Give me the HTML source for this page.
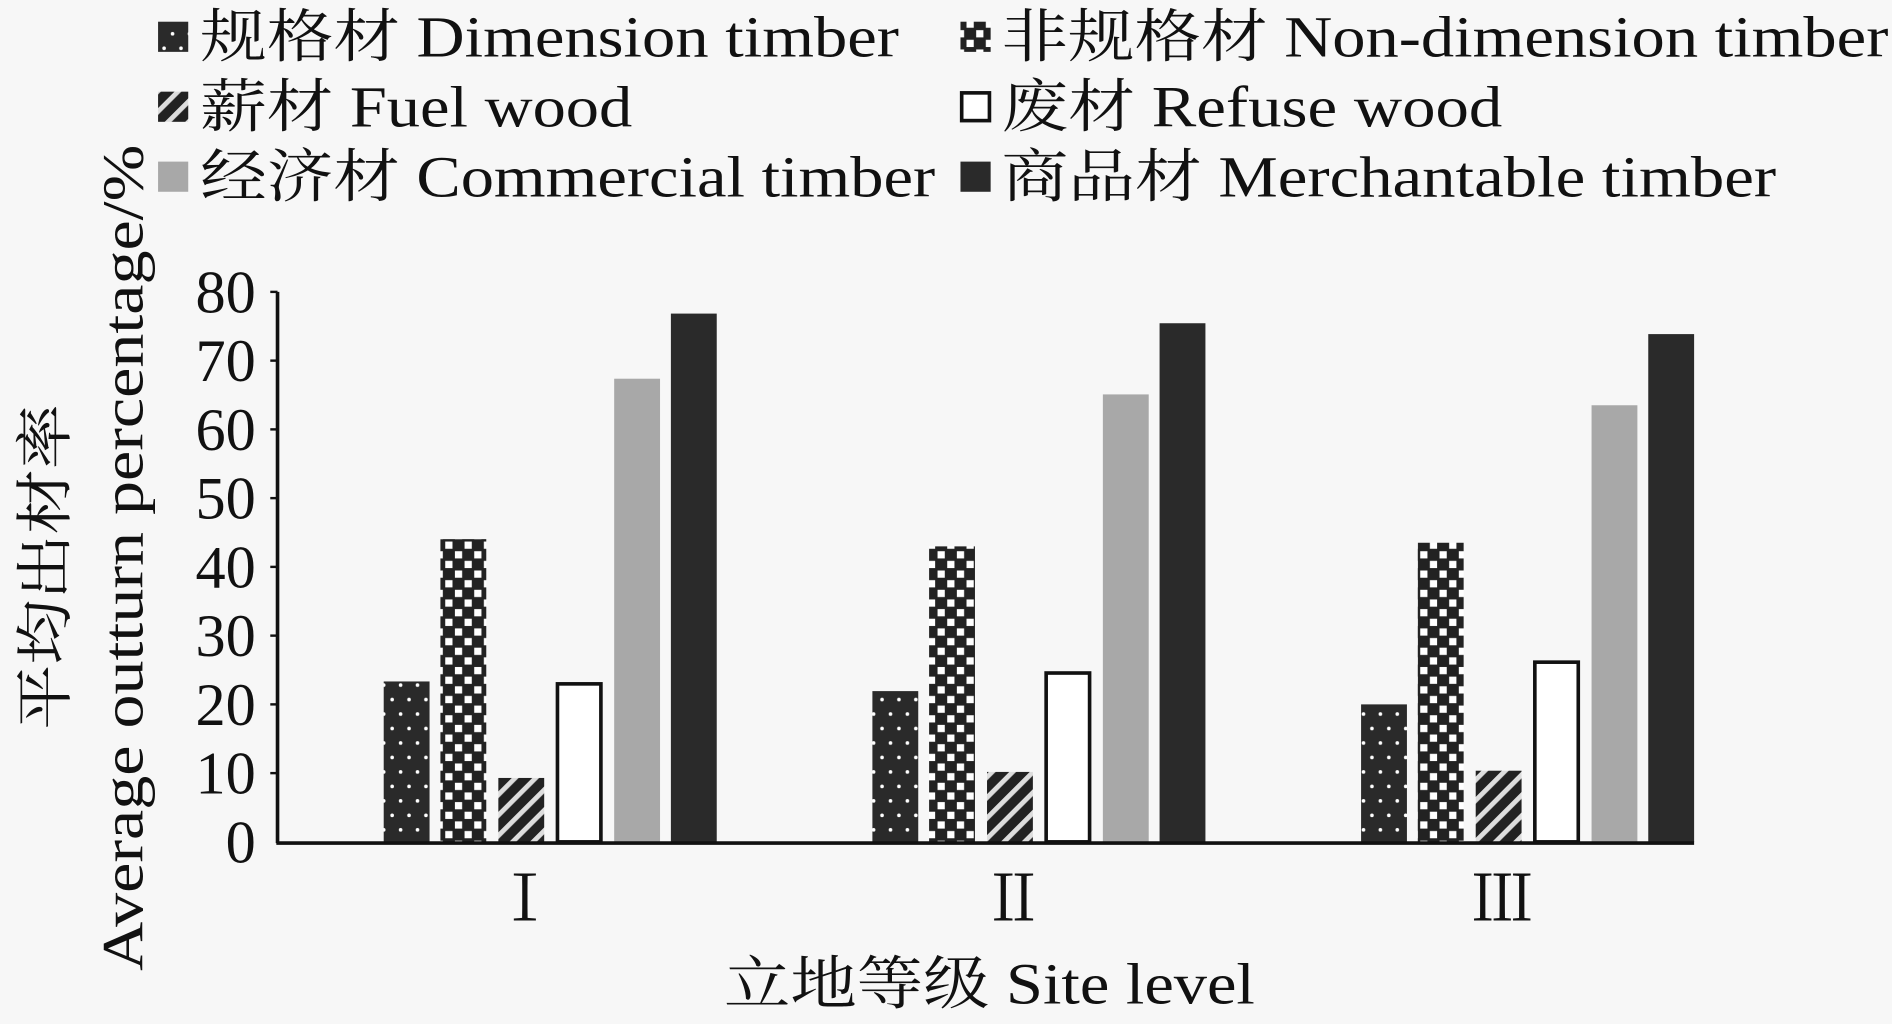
<!DOCTYPE html>
<html><head><meta charset="utf-8"><style>
html,body{margin:0;padding:0;background:#f7f7f7;}
svg{display:block;}
text{font-family:"Liberation Serif","Noto Serif CJK SC","Noto Sans CJK SC",serif;fill:#111;}
</style></head><body>
<svg width="1892" height="1024" viewBox="0 0 1568 849" preserveAspectRatio="none" xmlns="http://www.w3.org/2000/svg">
<defs>
<pattern id="dots" width="14" height="24" patternUnits="userSpaceOnUse">
<rect width="14" height="24" fill="#2a2a2a"/>
<circle cx="3" cy="4" r="1.5" fill="#fff"/><circle cx="10" cy="16" r="1.5" fill="#fff"/>
</pattern>
<pattern id="chk" width="16" height="16" patternUnits="userSpaceOnUse">
<rect width="16" height="16" fill="#222"/>
<rect x="1" y="1" width="6" height="6" fill="#fff"/><rect x="9" y="9" width="6" height="6" fill="#fff"/>
</pattern>
<pattern id="diag" width="12" height="12" patternUnits="userSpaceOnUse" patternTransform="rotate(45)">
<rect width="12" height="12" fill="#222"/><rect width="4" height="12" fill="#ddd"/>
</pattern>
</defs>
<rect width="1568" height="849" fill="#f7f7f7"/>
<!-- legend -->
<g font-size="48">
<rect x="131" y="18" width="25" height="25" fill="url(#dots)"/><text x="166" y="47" textLength="579" lengthAdjust="spacingAndGlyphs">规格材 Dimension timber</text>
<rect x="131" y="76" width="25" height="25" fill="url(#diag)"/><text x="166" y="105" textLength="358" lengthAdjust="spacingAndGlyphs">薪材 Fuel wood</text>
<rect x="131" y="134" width="25" height="25" fill="#a8a8a8"/><text x="166" y="163" textLength="609" lengthAdjust="spacingAndGlyphs">经济材 Commercial timber</text>
<rect x="796" y="18" width="25" height="25" fill="url(#chk)"/><text x="830" y="47" textLength="735" lengthAdjust="spacingAndGlyphs">非规格材 Non-dimension timber</text>
<rect x="797" y="77" width="23" height="23" fill="#fff" stroke="#111" stroke-width="3"/><text x="830" y="105" textLength="415" lengthAdjust="spacingAndGlyphs">废材 Refuse wood</text>
<rect x="796" y="134" width="25" height="25" fill="#2a2a2a"/><text x="830" y="163" textLength="642" lengthAdjust="spacingAndGlyphs">商品材 Merchantable timber</text>
</g>
<!-- y ticks -->
<g font-size="50" text-anchor="end">
<text x="212" y="715">0</text><text x="212" y="658">10</text><text x="212" y="601">20</text><text x="212" y="544">30</text>
<text x="212" y="487">40</text><text x="212" y="430">50</text><text x="212" y="373">60</text><text x="212" y="316">70</text><text x="212" y="259">80</text>
</g>
<line x1="230" y1="242" x2="230" y2="699" stroke="#111" stroke-width="3"/>
<g stroke="#111" stroke-width="2">
<line x1="224" y1="242" x2="230" y2="242"/><line x1="224" y1="299" x2="230" y2="299"/><line x1="224" y1="356" x2="230" y2="356"/>
<line x1="224" y1="413" x2="230" y2="413"/><line x1="224" y1="470" x2="230" y2="470"/><line x1="224" y1="527" x2="230" y2="527"/>
<line x1="224" y1="584" x2="230" y2="584"/><line x1="224" y1="641" x2="230" y2="641"/>
</g>
<g>
<rect x="318" y="565" width="38" height="133" fill="url(#dots)"/>
<rect x="365" y="447" width="38" height="251" fill="url(#chk)"/>
<rect x="413" y="645" width="38" height="53" fill="url(#diag)"/>
<rect x="462" y="567" width="36" height="131" fill="#fff" stroke="#111" stroke-width="3"/>
<rect x="509" y="314" width="38" height="384" fill="#a8a8a8"/>
<rect x="556" y="260" width="38" height="438" fill="#2a2a2a"/>

<rect x="723" y="573" width="38" height="125" fill="url(#dots)"/>
<rect x="770" y="453" width="38" height="245" fill="url(#chk)"/>
<rect x="818" y="640" width="38" height="58" fill="url(#diag)"/>
<rect x="867" y="558" width="36" height="140" fill="#fff" stroke="#111" stroke-width="3"/>
<rect x="914" y="327" width="38" height="371" fill="#a8a8a8"/>
<rect x="961" y="268" width="38" height="430" fill="#2a2a2a"/>

<rect x="1128" y="584" width="38" height="114" fill="url(#dots)"/>
<rect x="1175" y="450" width="38" height="248" fill="url(#chk)"/>
<rect x="1223" y="639" width="38" height="59" fill="url(#diag)"/>
<rect x="1272" y="549" width="36" height="149" fill="#fff" stroke="#111" stroke-width="3"/>
<rect x="1319" y="336" width="38" height="362" fill="#a8a8a8"/>
<rect x="1366" y="277" width="38" height="421" fill="#2a2a2a"/>
</g>
<line x1="229" y1="699" x2="1404" y2="699" stroke="#111" stroke-width="3"/>
<g font-size="52" text-anchor="middle">
<text x="435" y="763">Ⅰ</text><text x="840" y="763">Ⅱ</text><text x="1245" y="763">Ⅲ</text>
</g>
<text x="600" y="832" font-size="48" textLength="440" lengthAdjust="spacingAndGlyphs">立地等级 Site level</text>
<text transform="translate(54,605) rotate(-90)" font-size="48" textLength="270" lengthAdjust="spacingAndGlyphs">平均出材率</text>
<text transform="translate(118,805) rotate(-90)" font-size="48" textLength="685" lengthAdjust="spacingAndGlyphs">Average outturn percentage/%</text>
</svg>
</body></html>
